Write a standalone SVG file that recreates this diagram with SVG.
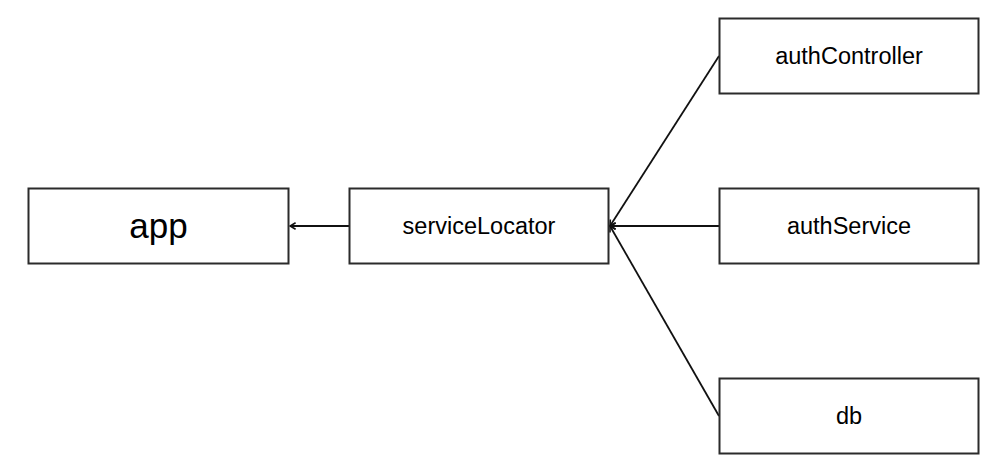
<svg xmlns="http://www.w3.org/2000/svg" width="999" height="474" viewBox="0 0 999 474">
<style>
.box{fill:#fff;stroke:#2b2b2b;stroke-width:2}
.lbl{font-family:"Liberation Sans",Arial,sans-serif;font-size:23.5px;fill:#000;text-anchor:middle}
.big{font-size:35px}
.edge{fill:none;stroke:#111;stroke-width:1.8}
</style>
<defs>
<marker id="arr" viewBox="0 0 10 10" refX="9" refY="5" markerWidth="8" markerHeight="8" markerUnits="userSpaceOnUse" orient="auto">
<path d="M2,1 L9,5 L2,9" fill="none" stroke="#111" stroke-width="2"/>
</marker>
</defs>
<rect width="999" height="474" fill="#fff"/>
<g id="connectors">
<line class="edge" x1="349" y1="226" x2="290" y2="226" marker-end="url(#arr)"/>
<line class="edge" x1="719" y1="56" x2="610" y2="226" marker-end="url(#arr)"/>
<line class="edge" x1="719" y1="226" x2="610" y2="226" marker-end="url(#arr)"/>
<line class="edge" x1="719" y1="416" x2="610" y2="226" marker-end="url(#arr)"/>
</g>
<g id="app">
<rect class="box" x="28.5" y="188.5" width="260" height="75"/>
<text class="lbl big" x="158.5" y="238">app</text>
</g>
<g id="serviceLocator">
<rect class="box" x="349.5" y="188.5" width="259" height="75"/>
<text class="lbl" x="479" y="234">serviceLocator</text>
</g>
<g id="authController">
<rect class="box" x="719.5" y="18.5" width="259" height="75"/>
<text class="lbl" x="849" y="64">authController</text>
</g>
<g id="authService">
<rect class="box" x="719.5" y="188.5" width="259" height="75"/>
<text class="lbl" x="849" y="234">authService</text>
</g>
<g id="db">
<rect class="box" x="719.5" y="378.5" width="259" height="75"/>
<text class="lbl" x="849" y="424">db</text>
</g>
</svg>
